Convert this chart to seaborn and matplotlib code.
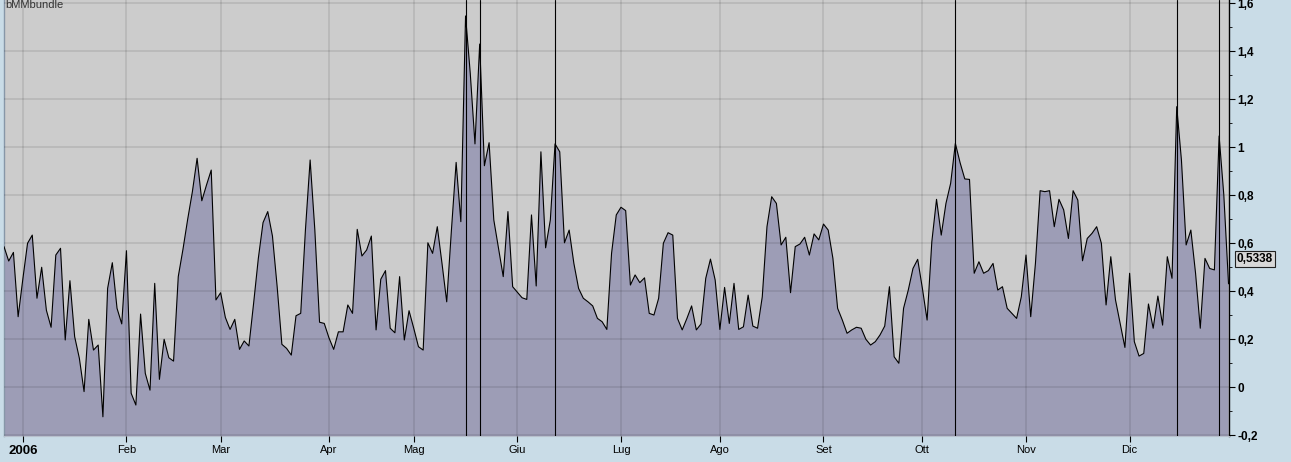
import numpy as np
import pandas as pd
import seaborn as sns
import matplotlib.pyplot as plt
import matplotlib.transforms as mtransforms
from matplotlib.ticker import MultipleLocator

## daily values (trading days, late Dec 2005 -> Dec 2006)
values = [0.585, 0.525, 0.561, 0.293, 0.45, 0.599, 0.633, 0.37, 0.499, 0.32,
          0.249, 0.55, 0.578, 0.196, 0.443, 0.21, 0.12, -0.019, 0.282, 0.154,
          0.175, -0.124, 0.411, 0.518, 0.328, 0.263, 0.568, -0.026, -0.075, 0.304,
          0.057, -0.013, 0.432, 0.032, 0.199, 0.122, 0.108, 0.46, 0.574, 0.699,
          0.814, 0.953, 0.776, 0.842, 0.904, 0.363, 0.393, 0.29, 0.24, 0.282,
          0.157, 0.192, 0.171, 0.349, 0.536, 0.685, 0.731, 0.629, 0.418, 0.178,
          0.161, 0.133, 0.297, 0.307, 0.654, 0.946, 0.654, 0.27, 0.265, 0.205,
          0.157, 0.23, 0.23, 0.342, 0.307, 0.657, 0.546, 0.571, 0.629, 0.238,
          0.449, 0.485, 0.245, 0.226, 0.46, 0.196, 0.318, 0.245, 0.168, 0.154,
          0.601, 0.557, 0.668, 0.515, 0.355, 0.654, 0.936, 0.689, 1.546, 1.307,
          1.013, 1.429, 0.922, 1.018, 0.696, 0.578, 0.46, 0.731, 0.418, 0.395,
          0.372, 0.365, 0.717, 0.421, 0.98, 0.58, 0.696, 1.013, 0.98, 0.601,
          0.654, 0.515, 0.411, 0.37, 0.355, 0.338, 0.286, 0.272, 0.24, 0.557,
          0.717, 0.749, 0.735, 0.425, 0.467, 0.435, 0.455, 0.307, 0.30, 0.37,
          0.599, 0.643, 0.633, 0.286, 0.238, 0.286, 0.338, 0.238, 0.263, 0.453,
          0.533, 0.446, 0.24, 0.415, 0.265, 0.432, 0.24, 0.251, 0.383, 0.254,
          0.245, 0.376, 0.668, 0.793, 0.765, 0.592, 0.624, 0.393, 0.585, 0.596,
          0.624, 0.55, 0.638, 0.613, 0.679, 0.654, 0.536, 0.328, 0.279, 0.224,
          0.238, 0.249, 0.245, 0.199, 0.175, 0.189, 0.217, 0.254, 0.418, 0.126,
          0.099, 0.328, 0.404, 0.494, 0.532, 0.411, 0.279, 0.605, 0.782, 0.633,
          0.765, 0.849, 1.015, 0.935, 0.867, 0.865, 0.474, 0.522, 0.474, 0.485,
          0.515, 0.404, 0.418, 0.328, 0.307, 0.286, 0.376, 0.55, 0.293, 0.515,
          0.818, 0.814, 0.818, 0.668, 0.782, 0.738, 0.619, 0.818, 0.779, 0.526,
          0.619, 0.64, 0.668, 0.599, 0.342, 0.543, 0.363, 0.265, 0.165, 0.474,
          0.189, 0.129, 0.14, 0.346, 0.245, 0.379, 0.258, 0.543, 0.453, 1.168,
          0.946, 0.592, 0.654, 0.474, 0.245, 0.536, 0.494, 0.488, 1.046, 0.80,
          0.43]

month_labels = ['2006', 'Feb', 'Mar', 'Apr', 'Mag', 'Giu', 'Lug', 'Ago', 'Set', 'Ott', 'Nov', 'Dic']
month_pos = [4, 26, 46, 69, 87, 109, 131, 152, 174, 195, 217, 239]
event_pos = [98, 101, 117, 202, 249, 258]
y_ticks = [-0.2, 0, 0.2, 0.4, 0.6, 0.8, 1.0, 1.2, 1.4, 1.6]
y_labels = ['-0,2', '0', '0,2', '0,4', '0,6', '0,8', '1', '1,2', '1,4', '1,6']
last_value = 0.5338
last_label = '0,5338'
title = 'bMMbundle'

df = pd.DataFrame({'day': np.arange(len(values)), 'value': values})

sns.set_style('white')
plt.rcParams['font.family'] = ['Liberation Sans', 'DejaVu Sans']

fig = plt.figure(figsize=(12.91, 4.62), dpi=100, facecolor='#c9dce7')
ax = fig.add_axes([4/1291, 26/462, 1225/1291, 436/462])
ax.set_facecolor('#cccccc')

ax.fill_between(df['day'], df['value'], -1, color='#9d9db6', lw=0, zorder=1)
sns.lineplot(data=df, x='day', y='value', ax=ax, color='black', lw=0.8, zorder=3)
for p in event_pos:
    ax.axvline(p, color='black', lw=0.8, zorder=4)

ax.set_xlim(0, 260.1)
ax.set_ylim(-0.204, 1.6125)
ax.set_xlabel('')
ax.set_ylabel('')

## grid over the fill, like the original
ax.set_axisbelow(False)
ax.grid(True, which='major', color='black', alpha=0.1, lw=1.2)

## right y axis
ax.yaxis.tick_right()
ax.set_yticks(y_ticks)
ax.set_yticklabels(y_labels, fontweight='bold', fontsize=8.5)
ax.yaxis.set_minor_locator(MultipleLocator(0.1))
ax.tick_params(axis='y', which='major', direction='out', length=4.3, width=0.8, pad=1.5,
               right=True, left=False, colors='black')
ax.tick_params(axis='y', which='minor', direction='out', length=2.5, width=0.6,
               right=True, left=False, colors='black')

## x axis months
ax.set_xticks(month_pos)
ax.set_xticklabels(month_labels, fontsize=8)
ax.get_xticklabels()[0].set_fontweight('bold')
ax.get_xticklabels()[0].set_fontsize(9.5)
ax.tick_params(axis='x', which='major', direction='out', length=4, width=0.8, pad=2.5,
               bottom=True, colors='black')

ax.spines['top'].set_visible(False)
ax.spines['right'].set_color('black')
ax.spines['right'].set_linewidth(1)
ax.spines['left'].set_color('#8797a8')
ax.spines['left'].set_linewidth(1)
ax.spines['bottom'].set_color('#b8c0cc')
ax.spines['bottom'].set_linewidth(0.8)

trans = mtransforms.blended_transform_factory(ax.transAxes, ax.transData)
ax.text(1.0065, last_value, last_label, transform=trans, ha='left', va='center',
        fontsize=8.5, fontweight='bold', color='black', clip_on=False,
        bbox=dict(boxstyle='square,pad=0.15', fc='#d8d8d8', ec='#222222', lw=0.8))

ax.text(0.001, 0.999, title, transform=ax.transAxes, ha='left', va='top',
        fontsize=8, color='#333333')

plt.savefig('out.png', dpi=100, facecolor=fig.get_facecolor())
